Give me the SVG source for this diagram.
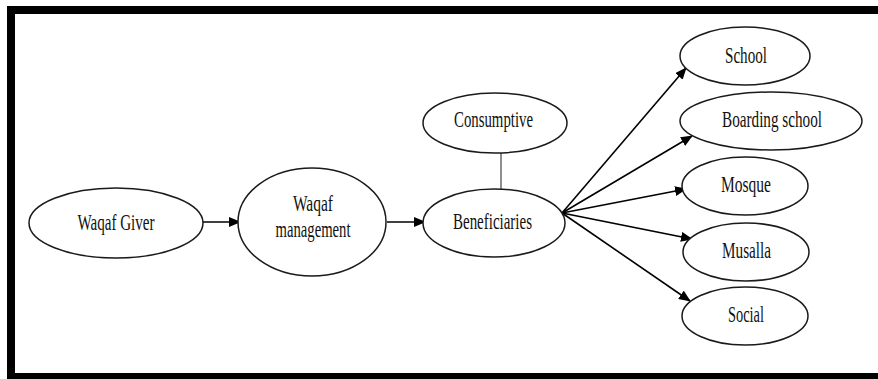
<svg xmlns="http://www.w3.org/2000/svg" width="878" height="379" viewBox="0 0 878 379">
<style>
.n ellipse{fill:#fff;stroke:#1a1a1a;stroke-width:1.5}
.n text{font-family:"Liberation Serif","Times New Roman",serif;font-size:24px;fill:#111;text-anchor:middle}
.c line{stroke:#000;stroke-width:1.6}
.c line.a{marker-end:url(#ah)}
.c line.p{stroke:#444;stroke-width:1.2}
</style>
<defs>
<marker id="ah" markerWidth="12" markerHeight="10" refX="11" refY="5" orient="auto" markerUnits="userSpaceOnUse">
<path d="M0,0 L12,5 L0,10 Z" fill="#000"/>
</marker>
</defs>
<rect x="0" y="0" width="878" height="379" fill="#fff"/>
<g id="frame" fill="#000">
<rect x="7" y="6" width="871" height="8"/>
<rect x="7" y="6" width="8" height="373"/>
<rect x="7" y="373" width="871" height="6"/>
</g>
<g class="c" id="connectors">
<line class="a" x1="202" y1="222" x2="240" y2="222"/>
<line class="a" x1="387" y1="222" x2="425" y2="222"/>
<line class="p" x1="501" y1="153" x2="501" y2="189"/>
<line class="a" x1="562" y1="213" x2="686" y2="68"/>
<line class="a" x1="562" y1="213" x2="692" y2="136"/>
<line class="a" x1="562" y1="213" x2="686" y2="189"/>
<line class="a" x1="562" y1="213" x2="692" y2="239"/>
<line class="a" x1="562" y1="213" x2="690" y2="301"/>
</g>
<g class="n" id="waqaf-giver">
<ellipse cx="116" cy="223" rx="87" ry="35"/>
<text x="116" y="230" textLength="77" lengthAdjust="spacingAndGlyphs">Waqaf Giver</text>
</g>
<g class="n" id="waqaf-management">
<ellipse cx="312" cy="222" rx="74" ry="54"/>
<text x="313" y="211" textLength="40" lengthAdjust="spacingAndGlyphs">Waqaf</text>
<text x="313" y="237" textLength="75" lengthAdjust="spacingAndGlyphs">management</text>
</g>
<g class="n" id="beneficiaries">
<ellipse cx="494" cy="223" rx="71" ry="34"/>
<text x="492.5" y="229" textLength="79" lengthAdjust="spacingAndGlyphs">Beneficiaries</text>
</g>
<g class="n" id="consumptive">
<ellipse cx="495" cy="123" rx="72" ry="30"/>
<text x="493.5" y="127" textLength="79" lengthAdjust="spacingAndGlyphs">Consumptive</text>
</g>
<g class="n" id="school">
<ellipse cx="745" cy="56" rx="65" ry="29"/>
<text x="746" y="63" textLength="42" lengthAdjust="spacingAndGlyphs">School</text>
</g>
<g class="n" id="boarding-school">
<ellipse cx="771" cy="121" rx="91" ry="29"/>
<text x="772" y="127" textLength="100" lengthAdjust="spacingAndGlyphs">Boarding school</text>
</g>
<g class="n" id="mosque">
<ellipse cx="745" cy="186" rx="63" ry="29"/>
<text x="746" y="192" textLength="50" lengthAdjust="spacingAndGlyphs">Mosque</text>
</g>
<g class="n" id="musalla">
<ellipse cx="746" cy="252" rx="63" ry="29"/>
<text x="746.5" y="258" textLength="49" lengthAdjust="spacingAndGlyphs">Musalla</text>
</g>
<g class="n" id="social">
<ellipse cx="745" cy="316" rx="63" ry="29"/>
<text x="746" y="322" textLength="36" lengthAdjust="spacingAndGlyphs">Social</text>
</g>
</svg>
